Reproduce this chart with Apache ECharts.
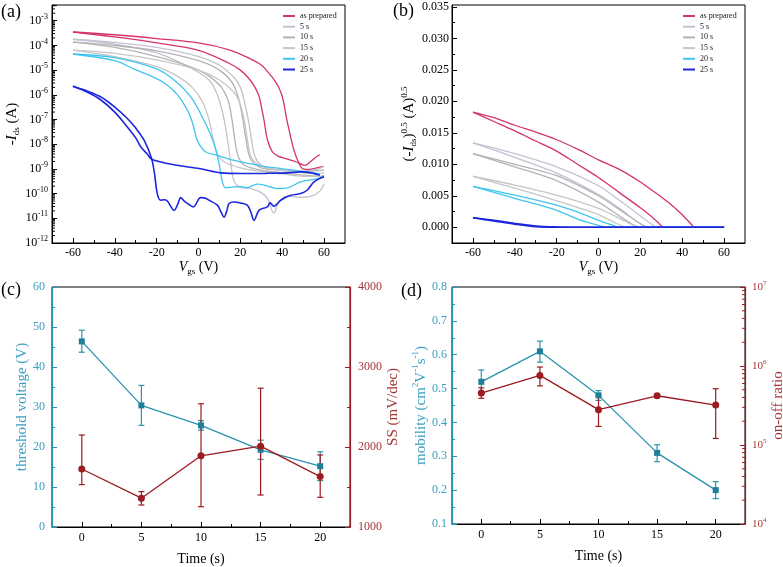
<!DOCTYPE html>
<html>
<head>
<meta charset="utf-8">
<script src="https://cdn.jsdelivr.net/npm/echarts@6.0.0/dist/echarts.min.js"></script>
<style>
html,body{margin:0;padding:0;background:#ffffff;}
#chart{width:783px;height:567px;}
</style>
</head>
<body>
<div id="chart"></div>
<script>
const F = 'Liberation Serif';

// ---------- tick label arrays ----------
const vgsMajor = [-60, -40, -20, 0, 20, 40, 60];
const vgsMinor = [-50, -30, -10, 10, 30, 50];
const sqrtMajor = [0, 0.005, 0.010, 0.015, 0.020, 0.025, 0.030, 0.035];
const sqrtMinor = [0.0025, 0.0075, 0.0125, 0.0175, 0.0225, 0.0275, 0.0325];
const timeMajor = [0, 5, 10, 15, 20];
const timeMinor = [2.5, 7.5, 12.5, 17.5];

const sampleNames = ['as prepared', '5 s', '10 s', '15 s', '20 s', '25 s'];
const sampleColors = ['#d4336a', '#c2c2d4', '#b3b3b3', '#c6c6c6', '#3fc5ee', '#1c26dc'];

// ---------- (a) -Ids (A) vs Vgs (V), two sweeps per sample ----------
const asPrepA_fwd = [[-60,3.5e-4],[-40,2.7e-4],[-20,1.9e-4],[0,1.26e-4],[15,6.5e-5],[25,2.8e-5],[30,1.6e-5],[33.7,7.4e-6],[36,4.2e-6],[38.5,1.9e-6],[40,8.5e-7],[41,3.6e-7],[42,1.2e-7],[43.3,3.7e-8],[45.6,5.8e-9],[48,1.7e-9],[50,1.0e-9],[53,9.5e-10],[56,1.07e-9],[60,1.26e-9]];
const asPrepA_rev = [[-60,3.5e-4],[-40,2.2e-4],[-20,1.26e-4],[0,6.3e-5],[14.6,1.9e-5],[20,1.0e-5],[24,4.7e-6],[27,2.0e-6],[29,8.3e-7],[30.3,2.5e-7],[31.3,9.5e-8],[33,1.45e-8],[35.3,4.9e-9],[38,3.3e-9],[41.7,2.6e-9],[46.5,1.95e-9],[51,1.4e-9],[53.6,2.0e-9],[55,2.5e-9],[57,3.4e-9],[58,3.6e-9]];
const s5A_fwd = [[-60,1.78e-4],[-40,1.32e-4],[-20,8.3e-5],[0,3.55e-5],[10,1.58e-5],[17,5.0e-6],[20,2.0e-6],[22,5.0e-7],[24,7.9e-8],[25.5,1.26e-8],[27,3.2e-9],[30,1.4e-9],[35,1.0e-9],[45,7.9e-10],[55,8.9e-10],[60,1.26e-9]];
const s5A_rev = [[-60,1.78e-4],[-40,1.12e-4],[-20,5.0e-5],[-5,1.4e-5],[5,4.0e-6],[9,1.0e-6],[12,1.26e-7],[14,1.26e-8],[15.5,1.6e-9],[17,3.2e-10],[20,1.8e-10],[25,1.6e-10],[30,1.1e-10],[33,6.3e-11],[36,1.6e-11],[38,4.0e-11],[42,7.9e-11],[48,7.1e-11],[54,7.9e-11],[58,1.26e-10],[60,2.5e-10]];
const s10A_fwd = [[-60,1.35e-4],[-40,1.0e-4],[-20,6.0e-5],[0,2.4e-5],[10,1.0e-5],[16,3.2e-6],[19,7.9e-7],[21,1.26e-7],[22.5,2.0e-8],[24,4.0e-9],[26,1.8e-9],[30,1.1e-9],[40,8.9e-10],[50,7.9e-10],[60,8.9e-10]];
const s10A_rev = [[-60,1.35e-4],[-40,8.3e-5],[-20,3.55e-5],[0,1.0e-5],[10,2.5e-6],[14,6.3e-7],[16,1.0e-7],[17.5,1.26e-8],[19,3.2e-9],[22,1.4e-9],[30,8.9e-10],[40,7.1e-10],[50,5.6e-10],[60,5.0e-10]];
const s15A_fwd = [[-60,6.5e-5],[-40,4.8e-5],[-20,2.6e-5],[0,1.0e-5],[10,4.0e-6],[17,1.26e-6],[20,4.0e-7],[22,7.9e-8],[23.5,1.26e-8],[25,3.2e-9],[28,1.6e-9],[35,1.0e-9],[45,7.9e-10],[55,6.3e-10],[60,7.1e-10]];
const s15A_rev = [[-60,6.5e-5],[-40,3.55e-5],[-20,1.4e-5],[-10,5.6e-6],[-3,2.0e-6],[2,5.0e-7],[5,1.0e-7],[7,1.6e-8],[9,4.0e-9],[12,2.0e-9],[20,1.1e-9],[30,7.9e-10],[40,6.3e-10],[50,5.0e-10],[57,5.0e-10]];
const s20A_fwd = [[-60,4.5e-5],[-40,3.2e-5],[-20,1.12e-5],[-11.7,4.0e-6],[-3.7,8.3e-7],[2.6,9.3e-8],[7.4,1.07e-8],[9.8,1.66e-9],[11.4,3.0e-10],[13,1.7e-10],[17,1.86e-10],[20,1.9e-10],[23.3,1.74e-10],[28,2.4e-10],[31.3,2.2e-10],[37.7,1.6e-10],[42.5,1.7e-10],[48.8,3.0e-10],[56.8,4.0e-10],[60,5.5e-10]];
const s20A_rev = [[-60,4.5e-5],[-40,2.4e-5],[-31,1.12e-5],[-20,4.5e-6],[-15,2.5e-6],[-10,1.0e-6],[-5.3,2.4e-7],[-3,7.9e-8],[-0.6,1.45e-8],[2,6.3e-9],[4.2,4.5e-9],[9,3.55e-9],[17,2.2e-9],[25,1.6e-9],[33,1.2e-9],[45.6,8.9e-10],[58,6.3e-10]];
const s25A_fwd = [[-60,2.2e-6],[-53,1.4e-6],[-46.8,8.3e-7],[-40,3.2e-7],[-34,1.1e-7],[-30,4.5e-8],[-26,1.45e-8],[-22.5,2.8e-9],[-21,6.3e-10],[-19.7,1.0e-10],[-18.1,5.4e-11],[-16.5,5.6e-11],[-14.9,5.0e-11],[-13,2.8e-11],[-11.7,2.1e-11],[-10,3.55e-11],[-8.5,6.9e-11],[-6.8,5.0e-11],[-5.3,4.0e-11],[-2.5,2.9e-11],[1,6.9e-11],[3,6.6e-11],[5,5.4e-11],[9,3.4e-11],[10.5,2.0e-11],[12.2,1.12e-11],[13.5,2.0e-11],[14.6,4.0e-11],[17,4.6e-11],[20,4.2e-11],[23.3,3.4e-11],[25,1.8e-11],[26.5,8.3e-12],[28.9,2.1e-11],[32.9,2.9e-11],[34.2,4.2e-11],[36,3.1e-11],[39.3,5.4e-11],[44,8.5e-11],[48.8,1.0e-10],[52,1.4e-10],[55.2,3.0e-10],[60,4.8e-10]];
const s25A_rev = [[-60,2.2e-6],[-53,1.26e-6],[-46.8,6.3e-7],[-40,2.0e-7],[-34,5.0e-8],[-30,1.8e-8],[-27.6,7.9e-9],[-24.5,4.0e-9],[-22.5,2.5e-9],[-18,1.9e-9],[-15,1.66e-9],[-5,1.2e-9],[1,1.02e-9],[10.6,6.9e-10],[20,6.5e-10],[32,6.6e-10],[42.5,6.9e-10],[49,7.6e-10],[55,6.6e-10],[58,5.5e-10]];

// ---------- (b) (-Ids)^0.5 (A^0.5) vs Vgs ----------
const asPrepB_fwd = [[-60,0.0183],[-50,0.0174],[-40,0.0162],[-30,0.0151],[-20,0.0139],[-10,0.0124],[0,0.0107],[10,0.0092],[20,0.0072],[25,0.0060],[30,0.0048],[35,0.0035],[40,0.0020],[44,0.0006],[46,0],[60,0]];
const asPrepB_rev = [[-60,0.0183],[-50,0.0168],[-40,0.0153],[-30,0.0137],[-20,0.0121],[-10,0.0100],[0,0.0079],[10,0.0055],[20,0.0031],[25,0.0018],[28,0.0009],[31.5,0],[60,0]];
const s5B_fwd = [[-60,0.0134],[-40,0.0117],[-20,0.0096],[0,0.0066],[10,0.0043],[20,0.0018],[25,0.0006],[28,0],[60,0]];
const s5B_rev = [[-60,0.0134],[-40,0.0111],[-20,0.0086],[0,0.0052],[10,0.0030],[18,0.0010],[22,0.0002],[24,0],[60,0]];
const s10B_fwd = [[-60,0.0117],[-40,0.0100],[-20,0.0082],[0,0.0050],[10,0.0028],[18,0.0010],[22,0.0002],[24,0],[60,0]];
const s10B_rev = [[-60,0.0117],[-40,0.0096],[-20,0.0074],[0,0.0040],[10,0.0018],[16,0.0005],[20,0],[60,0]];
const s15B_fwd = [[-60,0.0081],[-40,0.0067],[-20,0.0051],[0,0.0030],[10,0.0014],[16,0.0004],[20,0],[60,0]];
const s15B_rev = [[-60,0.0081],[-40,0.0062],[-20,0.0042],[0,0.0020],[8,0.0007],[14,0],[60,0]];
const s20B_fwd = [[-60,0.0065],[-40,0.0051],[-20,0.0035],[-10,0.0024],[0,0.0011],[6,0.0004],[10,0],[60,0]];
const s20B_rev = [[-60,0.0065],[-40,0.0046],[-20,0.0027],[-10,0.0013],[0,0.0003],[4,0],[60,0]];
const s25B_fwd = [[-60,0.0015],[-50,0.0011],[-40,0.0006],[-30,0.0002],[-20,0.00005],[-10,0],[60,0]];
const s25B_rev = [[-60,0.0015],[-50,0.0010],[-40,0.0005],[-30,0.0001],[-20,0],[60,0]];

// ---------- (c) threshold voltage and SS vs time ----------
const times = [0, 5, 10, 15, 20];
const thresholdV = [46.4, 30.4, 25.4, 19.3, 15.2];
const thresholdLo = [43.7, 25.4, 24.2, 16.9, 11.6];
const thresholdHi = [49.2, 35.4, 26.6, 21.7, 18.8];
const ssVals = [1725, 1360, 1890, 2010, 1630];
const ssLo = [1530, 1275, 1254, 1400, 1371];
const ssHi = [2150, 1442, 2540, 2735, 1901];

// ---------- (d) mobility and on-off ratio vs time ----------
const mobility = [0.52, 0.61, 0.48, 0.31, 0.20];
const mobilityLo = [0.487, 0.578, 0.465, 0.284, 0.175];
const mobilityHi = [0.555, 0.640, 0.494, 0.334, 0.225];
const onOff = [4.55e5, 7.6e5, 2.8e5, 4.2e5, 3.2e5];
const onOffLo = [3.9e5, 5.6e5, 1.72e5, 4.05e5, 1.21e5];
const onOffHi = [5.3e5, 9.7e5, 4.2e5, 4.4e5, 5.16e5];

// ---------- helpers ----------
const TEAL = '#2a93ad', TEAL_MK = '#1e7f99', TEAL_TXT = '#3a9ec2';
const RED = '#9c1b20', RED_TXT = '#a63636';
const A_MAX_PA = 4.33e9; // top of panel (a) axis, in pA
const toPA = pts => pts.map(p => [p[0], p[1] * 1e12]);

function nameRich(color, size) {
  const s = Math.round(size * 0.62);
  return {
    n: {fontFamily: F, fontSize: size, fontWeight: 'normal', color: color, verticalAlign: 'middle', lineHeight: 18},
    i: {fontFamily: F, fontSize: size, fontWeight: 'normal', fontStyle: 'italic', color: color, verticalAlign: 'middle', lineHeight: 18},
    sub: {fontFamily: F, fontSize: s, fontWeight: 'normal', color: color, verticalAlign: 'bottom', lineHeight: s + 1},
    sup: {fontFamily: F, fontSize: s, fontWeight: 'normal', color: color, verticalAlign: 'top', lineHeight: s + 1}
  };
}
function logRich(color, size) {
  const s = Math.round(size * 0.65);
  return {
    b: {fontFamily: F, fontSize: size, color: color, verticalAlign: 'middle', lineHeight: size + 4},
    s: {fontFamily: F, fontSize: s, color: color, verticalAlign: 'top', lineHeight: s + 1}
  };
}
function decadeLabel(offset) {
  return function (v) {
    const l = Math.log10(v), e = Math.round(l);
    if (Math.abs(l - e) > 1e-6) return '';
    return '{b|10}{s|' + (e + offset) + '}';
  };
}
function minorLogValues(lo, hi) {
  const out = [];
  for (let e = Math.floor(Math.log10(lo)); e <= Math.ceil(Math.log10(hi)); e++) {
    for (let k = 2; k <= 9; k++) {
      const v = k * Math.pow(10, e);
      if (v > lo && v < hi) out.push(v);
    }
  }
  return out;
}
function tickRender(dir) {
  return function (params, api) {
    const p = api.coord([api.value(0), api.value(1)]);
    return {type: 'line', shape: {x1: p[0], y1: p[1], x2: p[0] + dir * 3, y2: p[1]},
      style: {stroke: api.visual('color'), lineWidth: 1}};
  };
}
function errRender(params, api) {
  const x = api.value(0);
  const a = api.coord([x, api.value(1)]);
  const b = api.coord([x, api.value(2)]);
  const c = api.visual('color');
  const w = 3;
  const st = {stroke: c, lineWidth: 1.2};
  return {type: 'group', children: [
    {type: 'line', shape: {x1: a[0], y1: a[1], x2: b[0], y2: b[1]}, style: st},
    {type: 'line', shape: {x1: a[0] - w, y1: a[1], x2: a[0] + w, y2: a[1]}, style: st},
    {type: 'line', shape: {x1: b[0] - w, y1: b[1], x2: b[0] + w, y2: b[1]}, style: st}
  ]};
}

function mainX(grid, min, max, major, name, gap, labelMargin, fs) {
  return {
    gridIndex: grid, type: 'value', min: min, max: max, position: 'bottom',
    axisLine: {show: true, onZero: false, lineStyle: {color: '#000', width: 1}},
    axisTick: {show: true, inside: true, length: 5, customValues: major, lineStyle: {color: '#000'}},
    axisLabel: {show: true, customValues: major, margin: labelMargin, fontFamily: F, fontSize: fs, color: '#000'},
    splitLine: {show: false},
    name: name, nameLocation: 'middle', nameGap: gap,
    nameTextStyle: {fontFamily: F, fontSize: 14, fontWeight: 'normal', color: '#000', rich: nameRich('#000', 14)}
  };
}
function minorX(grid, min, max, minor) {
  return {
    gridIndex: grid, type: 'value', min: min, max: max, position: 'bottom',
    axisLine: {show: false, onZero: false},
    axisTick: {show: true, inside: true, length: 3, customValues: minor, lineStyle: {color: '#000'}},
    axisLabel: {show: false}, splitLine: {show: false}
  };
}

// ---------- series ----------
const series = [];
const setsA = [
  [asPrepA_fwd, asPrepA_rev], [s5A_fwd, s5A_rev], [s10A_fwd, s10A_rev],
  [s15A_fwd, s15A_rev], [s20A_fwd, s20A_rev], [s25A_fwd, s25A_rev]
];
const setsB = [
  [asPrepB_fwd, asPrepB_rev], [s5B_fwd, s5B_rev], [s10B_fwd, s10B_rev],
  [s15B_fwd, s15B_rev], [s20B_fwd, s20B_rev], [s25B_fwd, s25B_rev]
];
const order = [1, 2, 3, 0, 4, 5];
order.forEach(function (k) {
  const w = k === 5 ? 1.6 : 1.3;
  setsA[k].forEach(function (d) {
    series.push({type: 'line', name: sampleNames[k], xAxisIndex: 0, yAxisIndex: 0,
      data: toPA(d), showSymbol: false, smooth: 0.35,
      lineStyle: {color: sampleColors[k], width: w}, itemStyle: {color: sampleColors[k]},
      z: 2 + k, silent: true, clip: true});
  });
  setsB[k].forEach(function (d) {
    series.push({type: 'line', name: sampleNames[k], xAxisIndex: 2, yAxisIndex: 1,
      data: d, showSymbol: false, smooth: 0.3,
      lineStyle: {color: sampleColors[k], width: w}, itemStyle: {color: sampleColors[k]},
      z: 2 + k, silent: true, clip: true});
  });
});

// log minor ticks
series.push({type: 'custom', xAxisIndex: 0, yAxisIndex: 0, silent: true, clip: false, z: 10,
  itemStyle: {color: '#000'}, renderItem: tickRender(1),
  data: minorLogValues(1, A_MAX_PA).map(v => [-70, v])});
series.push({type: 'custom', xAxisIndex: 6, yAxisIndex: 6, silent: true, clip: false, z: 10,
  itemStyle: {color: RED}, renderItem: tickRender(-1),
  data: minorLogValues(1e4, 1e7).map(v => [22.5, v])});

// (c)
series.push({type: 'custom', xAxisIndex: 4, yAxisIndex: 3, silent: true, clip: false, z: 4,
  itemStyle: {color: TEAL}, renderItem: errRender,
  data: times.map((t, i) => [t, thresholdLo[i], thresholdHi[i]])});
series.push({type: 'line', name: 'threshold', xAxisIndex: 4, yAxisIndex: 3,
  data: times.map((t, i) => [t, thresholdV[i]]), symbol: 'rect', symbolSize: 6,
  lineStyle: {color: TEAL, width: 1.3}, itemStyle: {color: TEAL_MK}, z: 5, silent: true});
series.push({type: 'custom', xAxisIndex: 4, yAxisIndex: 4, silent: true, clip: false, z: 4,
  itemStyle: {color: RED}, renderItem: errRender,
  data: times.map((t, i) => [t, ssLo[i], ssHi[i]])});
series.push({type: 'line', name: 'SS', xAxisIndex: 4, yAxisIndex: 4,
  data: times.map((t, i) => [t, ssVals[i]]), symbol: 'circle', symbolSize: 7,
  lineStyle: {color: RED, width: 1.3}, itemStyle: {color: RED}, z: 5, silent: true});

// (d)
series.push({type: 'custom', xAxisIndex: 6, yAxisIndex: 5, silent: true, clip: false, z: 4,
  itemStyle: {color: TEAL}, renderItem: errRender,
  data: times.map((t, i) => [t, mobilityLo[i], mobilityHi[i]])});
series.push({type: 'line', name: 'mobility', xAxisIndex: 6, yAxisIndex: 5,
  data: times.map((t, i) => [t, mobility[i]]), symbol: 'rect', symbolSize: 6,
  lineStyle: {color: TEAL, width: 1.3}, itemStyle: {color: TEAL_MK}, z: 5, silent: true});
series.push({type: 'custom', xAxisIndex: 6, yAxisIndex: 6, silent: true, clip: false, z: 4,
  itemStyle: {color: RED}, renderItem: errRender,
  data: times.map((t, i) => [t, onOffLo[i], onOffHi[i]])});
series.push({type: 'line', name: 'onoff', xAxisIndex: 6, yAxisIndex: 6,
  data: times.map((t, i) => [t, onOff[i]]), symbol: 'circle', symbolSize: 7,
  lineStyle: {color: RED, width: 1.3}, itemStyle: {color: RED}, z: 5, silent: true});

const gridBase = {show: true, borderColor: '#000', borderWidth: 1, backgroundColor: 'transparent', containLabel: false, outerBoundsMode: 'none'};
const legendBase = {
  data: sampleNames, orient: 'vertical', icon: 'rect', itemWidth: 12, itemHeight: 2,
  itemGap: 0.7, padding: 0, selectedMode: false,
  textStyle: {fontFamily: F, fontSize: 8, color: '#222', lineHeight: 10}
};
const titleStyle = {fontFamily: F, fontSize: 18, fontWeight: 'normal', color: '#000'};

const option = {
  animation: false,
  backgroundColor: '#ffffff',
  textStyle: {fontFamily: F},
  title: [
    {text: '(a)', left: 1, top: 3, padding: 0, textStyle: titleStyle},
    {text: '(b)', left: 393, top: 2, padding: 0, textStyle: titleStyle},
    {text: '(c)', left: 1, top: 281, padding: 0, textStyle: titleStyle},
    {text: '(d)', left: 401, top: 282, padding: 0, textStyle: titleStyle}
  ],
  legend: [
    Object.assign({left: 283, top: 11}, legendBase),
    Object.assign({left: 683, top: 11}, legendBase)
  ],
  grid: [
    Object.assign({left: 52, top: 5, width: 293, height: 238}, gridBase),
    Object.assign({left: 452, top: 5, width: 293, height: 238}, gridBase),
    Object.assign({left: 52, top: 287, width: 298, height: 240}, gridBase),
    Object.assign({left: 452, top: 287, width: 293, height: 237}, gridBase)
  ],
  xAxis: [
    mainX(0, -70, 70, vgsMajor, '{i|V}{sub|gs}{n| (V)}', 9, 4, 12),
    minorX(0, -70, 70, vgsMinor),
    mainX(1, -70, 70, vgsMajor, '{i|V}{sub|gs}{n| (V)}', 9, 4, 12),
    minorX(1, -70, 70, vgsMinor),
    mainX(2, -2.5, 22.5, timeMajor, '{n|Time (s)}', 23, 5, 12),
    minorX(2, -2.5, 22.5, timeMinor),
    mainX(3, -2.5, 22.5, timeMajor, '{n|Time (s)}', 23, 5, 12),
    minorX(3, -2.5, 22.5, timeMinor)
  ],
  yAxis: [
    { // 0: (a) log current, data in pA, labels in A
      gridIndex: 0, type: 'log', logBase: 10, min: 1, max: A_MAX_PA, interval: 1, position: 'left',
      axisLine: {show: true, onZero: false, lineStyle: {color: '#000'}},
      axisTick: {show: true, inside: true, length: 5, lineStyle: {color: '#000'}},
      axisLabel: {margin: 4, formatter: decadeLabel(-12), rich: logRich('#000', 12)},
      splitLine: {show: false}, minorTick: {show: false},
      name: '{n|-}{i|I}{sub|ds}{n| (A)}', nameLocation: 'middle', nameRotate: 90, nameGap: 31,
      nameTextStyle: {fontFamily: F, fontSize: 15, fontWeight: 'normal', color: '#000', rich: nameRich('#000', 15)}
    },
    { // 1: (b) sqrt current
      gridIndex: 1, type: 'value', min: -0.0025, max: 0.0353, position: 'left',
      axisLine: {show: true, onZero: false, lineStyle: {color: '#000'}},
      axisTick: {show: true, inside: true, length: 5, customValues: sqrtMajor, lineStyle: {color: '#000'}},
      axisLabel: {customValues: sqrtMajor, margin: 3, fontFamily: F, fontSize: 12, color: '#000',
        formatter: v => v.toFixed(3)},
      splitLine: {show: false},
      name: '{n|(-}{i|I}{sub|ds}{n|)}{sup|0.5}{n| (A)}{sup|0.5}', nameLocation: 'middle', nameRotate: 90, nameGap: 33,
      nameTextStyle: {fontFamily: F, fontSize: 15, fontWeight: 'normal', color: '#000', rich: nameRich('#000', 15)}
    },
    { // 2: (b) minor ticks
      gridIndex: 1, type: 'value', min: -0.0025, max: 0.0353, position: 'left',
      axisLine: {show: false, onZero: false},
      axisTick: {show: true, inside: true, length: 3, customValues: sqrtMinor, lineStyle: {color: '#000'}},
      axisLabel: {show: false}, splitLine: {show: false}
    },
    { // 3: (c) threshold voltage
      gridIndex: 2, type: 'value', min: 0, max: 60, interval: 10, position: 'left',
      axisLine: {show: true, onZero: false, lineStyle: {color: TEAL, width: 1.2}},
      axisTick: {show: true, inside: true, length: 5, lineStyle: {color: TEAL}},
      minorTick: {show: true, splitNumber: 2, length: 3, lineStyle: {color: TEAL}},
      axisLabel: {margin: 7, fontFamily: F, fontSize: 12, color: TEAL_TXT},
      splitLine: {show: false}, minorSplitLine: {show: false},
      name: 'threshold voltage (V)', nameLocation: 'middle', nameRotate: 90, nameGap: 19,
      nameTextStyle: {fontFamily: F, fontSize: 15, fontWeight: 'normal', color: TEAL_TXT}
    },
    { // 4: (c) SS
      gridIndex: 2, type: 'value', min: 1000, max: 4000, interval: 1000, position: 'right',
      axisLine: {show: true, onZero: false, lineStyle: {color: RED, width: 1.2}},
      axisTick: {show: true, inside: true, length: 5, lineStyle: {color: RED}},
      minorTick: {show: true, splitNumber: 2, length: 3, lineStyle: {color: RED}},
      axisLabel: {margin: 8, fontFamily: F, fontSize: 12, color: RED_TXT, formatter: v => String(v)},
      splitLine: {show: false}, minorSplitLine: {show: false},
      name: 'SS (mV/dec)', nameLocation: 'middle', nameRotate: 90, nameGap: 28,
      nameTextStyle: {fontFamily: F, fontSize: 15, fontWeight: 'normal', color: RED_TXT}
    },
    { // 5: (d) mobility
      gridIndex: 3, type: 'value', min: 0.1, max: 0.8, interval: 0.1, position: 'left',
      axisLine: {show: true, onZero: false, lineStyle: {color: TEAL, width: 1.2}},
      axisTick: {show: true, inside: true, length: 5, lineStyle: {color: TEAL}},
      minorTick: {show: true, splitNumber: 2, length: 3, lineStyle: {color: TEAL}},
      axisLabel: {margin: 5, fontFamily: F, fontSize: 12, color: TEAL_TXT},
      splitLine: {show: false}, minorSplitLine: {show: false},
      name: '{n|mobility (cm}{sup|2}{n|V}{sup|-1}{n|s}{sup|-1}{n|)}', nameLocation: 'middle', nameRotate: 90, nameGap: 20,
      nameTextStyle: {fontFamily: F, fontSize: 15, fontWeight: 'normal', color: TEAL_TXT, rich: nameRich(TEAL_TXT, 15)}
    },
    { // 6: (d) on-off ratio
      gridIndex: 3, type: 'log', logBase: 10, min: 1e4, max: 1e7, interval: 1, position: 'right',
      axisLine: {show: true, onZero: false, lineStyle: {color: RED, width: 1.2}},
      axisTick: {show: true, inside: true, length: 5, lineStyle: {color: RED}},
      axisLabel: {margin: 7, formatter: decadeLabel(0), rich: logRich(RED_TXT, 11)},
      splitLine: {show: false}, minorTick: {show: false},
      name: 'on-off ratio', nameLocation: 'middle', nameRotate: 90, nameGap: 25,
      nameTextStyle: {fontFamily: F, fontSize: 15, fontWeight: 'normal', color: RED_TXT}
    }
  ],
  series: series
};

const chart = echarts.init(document.getElementById('chart'), null, {renderer: 'canvas', width: 783, height: 567});
chart.setOption(option);
</script>
</body>
</html>
